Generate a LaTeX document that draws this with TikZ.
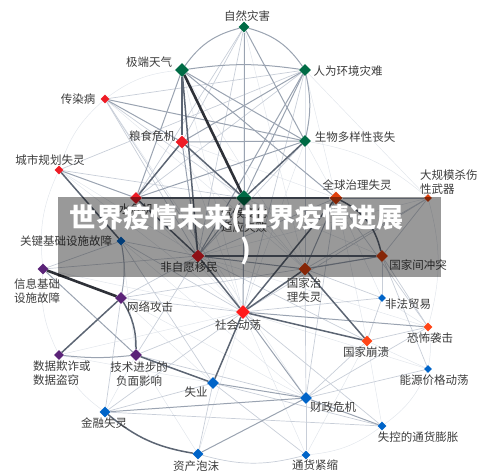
\documentclass[tikz,border=0pt]{standalone}
\usepackage{fontspec}
\newfontfamily\cjk{Noto Sans CJK SC}
\usetikzlibrary{shapes.geometric,backgrounds}
\definecolor{cg}{HTML}{006B45}
\definecolor{cr}{HTML}{EE1C25}
\definecolor{cr2}{HTML}{FF1A1A}
\definecolor{co}{HTML}{E0400C}
\definecolor{co2}{HTML}{FF4517}
\definecolor{cp}{HTML}{5B2378}
\definecolor{cb}{HTML}{0064C8}
\definecolor{lbl}{HTML}{3C3C3C}
\definecolor{ek}{HTML}{2E3138}
\definecolor{ed}{HTML}{5C6573}
\definecolor{em}{HTML}{9AA3B1}
\definecolor{el}{HTML}{C8CED8}
\definecolor{ef}{HTML}{E2E6EC}
\tikzset{
 dm/.style={diamond, inner sep=0pt, minimum size=#1, draw=none},
 lab/.style={font=\cjk\fontsize{11.5}{13.5}\selectfont, text=lbl, inner sep=0pt, align=center},
 e0/.style={ef, line width=0.5pt},
 e1/.style={el, line width=0.7pt},
 e2/.style={em, line width=1pt},
 e3/.style={ed, line width=1.5pt},
 e4/.style={ek, line width=2.6pt},
}
\begin{document}
\begin{tikzpicture}[x=1pt,y=-1pt]
\useasboundingbox (0,0) rectangle (500,475);
% nodes
\node[dm=11pt, fill=cg] (nz) at (244,27) {};
\node[dm=14pt, fill=cg] (ejt) at (182,70) {};
\node[dm=12pt, fill=cg] (rhj) at (305,70) {};
\node[dm=9pt, fill=cr] (ctl) at (105,99) {};
\node[dm=12pt, fill=cg] (swd) at (305,141) {};
\node[dm=13pt, fill=cr] (lsh) at (182,142) {};
\node[dm=9pt, fill=cr] (cs) at (59,170) {};
\node[dm=13pt, fill=co] (qq) at (336,198) {};
\node[dm=8pt, fill=co] (dgm) at (428,198) {};
\node[dm=12pt, fill=cr] (ssj) at (136,198) {};
\node[dm=16pt, fill=cg] (qh) at (244,198) {};
\node[dm=9pt, fill=cb] (gj) at (121,241) {};
\node[dm=13pt, fill=cr] (fzy) at (198,256) {};
\node[dm=12pt, fill=co] (gjc) at (382,256) {};
\node[dm=11pt, fill=cp] (xx) at (43,269) {};
\node[dm=13pt, fill=co] (gjz) at (305,269) {};
\node[dm=12pt, fill=cp] (wl) at (121,298) {};
\node[dm=8pt, fill=cb] (ffmy) at (382,298) {};
\node[dm=14pt, fill=cr2] (shd) at (243,312) {};
\node[dm=9pt, fill=co2] (kb) at (428,327) {};
\node[dm=11pt, fill=co2] (gbk) at (367,341) {};
\node[dm=10pt, fill=cp] (sj) at (59,355) {};
\node[dm=12pt, fill=cp] (js) at (136,355) {};
\node[dm=8pt, fill=cb] (ny) at (428,369) {};
\node[dm=12pt, fill=cb] (sy) at (213,383) {};
\node[dm=12pt, fill=cb] (cz) at (306,398) {};
\node[dm=11pt, fill=cb] (jr) at (105,412) {};
\node[dm=9pt, fill=cb] (sk) at (382,426) {};
\node[dm=11pt, fill=cb] (zc) at (198,454) {};
\node[dm=9pt, fill=cb] (tj) at (306,455) {};
% edges
\begin{scope}[on background layer]
\foreach \a/\b in {ctl/gjz, ctl/cz, cs/shd, cs/fzy, xx/shd, sj/shd, sj/sy, jr/js, zc/shd, zc/js, tj/shd, tj/gbk, sk/gbk, ny/shd, ny/gbk, kb/fzy, dgm/fzy, dgm/rhj, swd/shd, nz/gjz, nz/shd, ejt/shd, ejt/gjz, rhj/gjz, lsh/shd, lsh/gjz, ssj/shd, qh/gjz, qh/gjc, gj/js, gj/cz, wl/cz, wl/sy, ffmy/qq, ffmy/kb, gbk/qq, qq/swd, qq/rhj, qq/lsh}
  \draw[e0] (\a) -- (\b);
\draw[e0] (ejt) to[bend right=15] (ctl);
\draw[e0] (ctl) to[bend right=15] (cs);
\draw[e0] (cs) to[bend right=15] (xx);
\draw[e0] (xx) to[bend right=15] (sj);
\draw[e0] (sj) to[bend right=15] (jr);
\draw[e0] (tj) to[bend right=15] (sk);
\draw[e0] (sk) to[bend right=15] (ny);
\draw[e0] (ny) to[bend right=10] (kb);
\draw[e0] (kb) to[bend right=15] (dgm);
\draw[e0] (dgm) to[bend right=15] (swd);
\foreach \a/\b in {ctl/qh, ctl/shd, ctl/fzy, ctl/rhj, nz/fzy, nz/lsh, rhj/ssj, rhj/cs, swd/fzy, gjc/dgm, dgm/gjz, kb/gjc, kb/gbk, ffmy/gjc, ffmy/gjz, ffmy/gbk, ny/cz, ny/gjc, cz/tj, sy/zc, shd/jr, sy/jr, gbk/cz, gbk/fzy, cs/qh, gj/shd, gj/fzy, gj/xx, wl/shd, wl/gjc, js/shd, js/cz, gj/sy, gjz/cz, qq/fzy, qq/kb, sk/sy, sk/shd, tj/sy, jr/sk, jr/wl, cz/qq, dgm/shd, kb/cz, ffmy/shd, wl/fzy, xx/fzy, js/fzy, swd/gjz, rhj/shd, nz/ssj}
  \draw[e1] (\a) -- (\b);
\draw[e1] (zc) to[bend right=15] (tj);
\foreach \a/\b in {ejt/swd, rhj/lsh, swd/lsh, nz/qh, rhj/qh, rhj/fzy, qh/fzy, ctl/lsh, ctl/swd, qq/dgm, qq/gjz, ejt/ssj, ejt/qq, nz/swd, gjc/gjz, lsh/fzy, sy/cz, zc/cz, jr/cz, cz/sk, shd/cz, js/xx, cs/ssj, shd/kb, swd/ssj, fzy/gjz, qh/shd}
  \draw[e2] (\a) -- (\b);
\draw[e2] (nz) to[bend right=20] (ejt);
\draw[e2] (rhj) to[bend right=20] (nz);
\draw[e2] (swd) to[bend right=12] (rhj);
\draw[e2] (ejt) to[bend left=8] (rhj);
\draw[e2] (gj) to[bend left=10] (wl);
\draw[e2] (sj) to[bend right=6] (js);
\foreach \a/\b in {ejt/lsh, ejt/fzy, lsh/ssj, lsh/qh, ssj/qh, swd/qh, cs/gj, fzy/gjc, qh/qq, ssj/fzy, fzy/shd, shd/qq, wl/sj, js/sy, sy/shd, shd/gjz, gjz/gbk, shd/gbk}
  \draw[e3] (\a) -- (\b);
\draw[e3] (qq) to[bend left=25] (gjc);
\draw[e3] (wl) to[bend left=15] (js);
\draw[e3] (jr) to[bend right=15] (zc);
\foreach \a/\b in {ejt/qh, xx/wl}
  \draw[e4] (\a) -- (\b);
\end{scope}
% labels
\node[lab] (l-nz) at (247,16) {自然灾害};
\node[lab] (l-ejt) at (149,62) {极端天气};
\node[lab] (l-rhj) at (348,71) {人为环境灾难};
\node[lab] (l-ctl) at (78,99) {传染病};
\node[lab] (l-swd) at (355,137) {生物多样性丧失};
\node[lab] (l-lsh) at (152,136) {粮食危机};
\node[lab] (l-cs) at (50,160) {城市规划失灵};
\node[lab] (l-qq) at (357,185) {全球治理失灵};
\node[lab, anchor=north west, align=left] (l-dgm) at (420,170) {大规模杀伤\\性武器};
\node[lab] (l-ssj) at (136,209) {水危机};
\node[lab] (l-qh) at (244,220) {气候变化\\适应失败};
\node[lab] (l-gj) at (66,241) {关键基础设施故障};
\node[lab] (l-fzy) at (189,267) {非自愿移民};
\node[lab] (l-gjc) at (418,265) {国家间冲突};
\node[lab] (l-xx) at (37,291) {信息基础\\设施故障};
\node[lab] (l-gjz) at (304,290) {国家治\\理失灵};
\node[lab] (l-wl) at (150,307) {网络攻击};
\node[lab] (l-ffmy) at (408,304) {非法贸易};
\node[lab] (l-shd) at (238,325) {社会动荡};
\node[lab] (l-kb) at (430,338) {恐怖袭击};
\node[lab] (l-gbk) at (366,352) {国家崩溃};
\node[lab, anchor=north west, align=left] (l-sj) at (33,361) {数据欺诈或\\数据盗窃};
\node[lab] (l-js) at (139,374) {技术进步的\\负面影响};
\node[lab] (l-ny) at (434,380) {能源价格动荡};
\node[lab] (l-sy) at (196,392) {失业};
\node[lab] (l-cz) at (333,407) {财政危机};
\node[lab] (l-jr) at (104,423) {金融失灵};
\node[lab] (l-sk) at (418,437) {失控的通货膨胀};
\node[lab] (l-zc) at (196,466) {资产泡沫};
\node[lab] (l-tj) at (315,465) {通货紧缩};
% banner
\fill[black, opacity=0.4] (58,197) rectangle (441,277);
\node[font=\cjk\bfseries\fontsize{27}{30}\selectfont, text=white, inner sep=0pt] (t1) at (236.5,218.5) {世界疫情未来(世界疫情进展};
\node[font=\cjk\bfseries\fontsize{27}{30}\selectfont, text=white, inner sep=0pt] (t2) at (246,251) {)};
\end{tikzpicture}
\end{document}
